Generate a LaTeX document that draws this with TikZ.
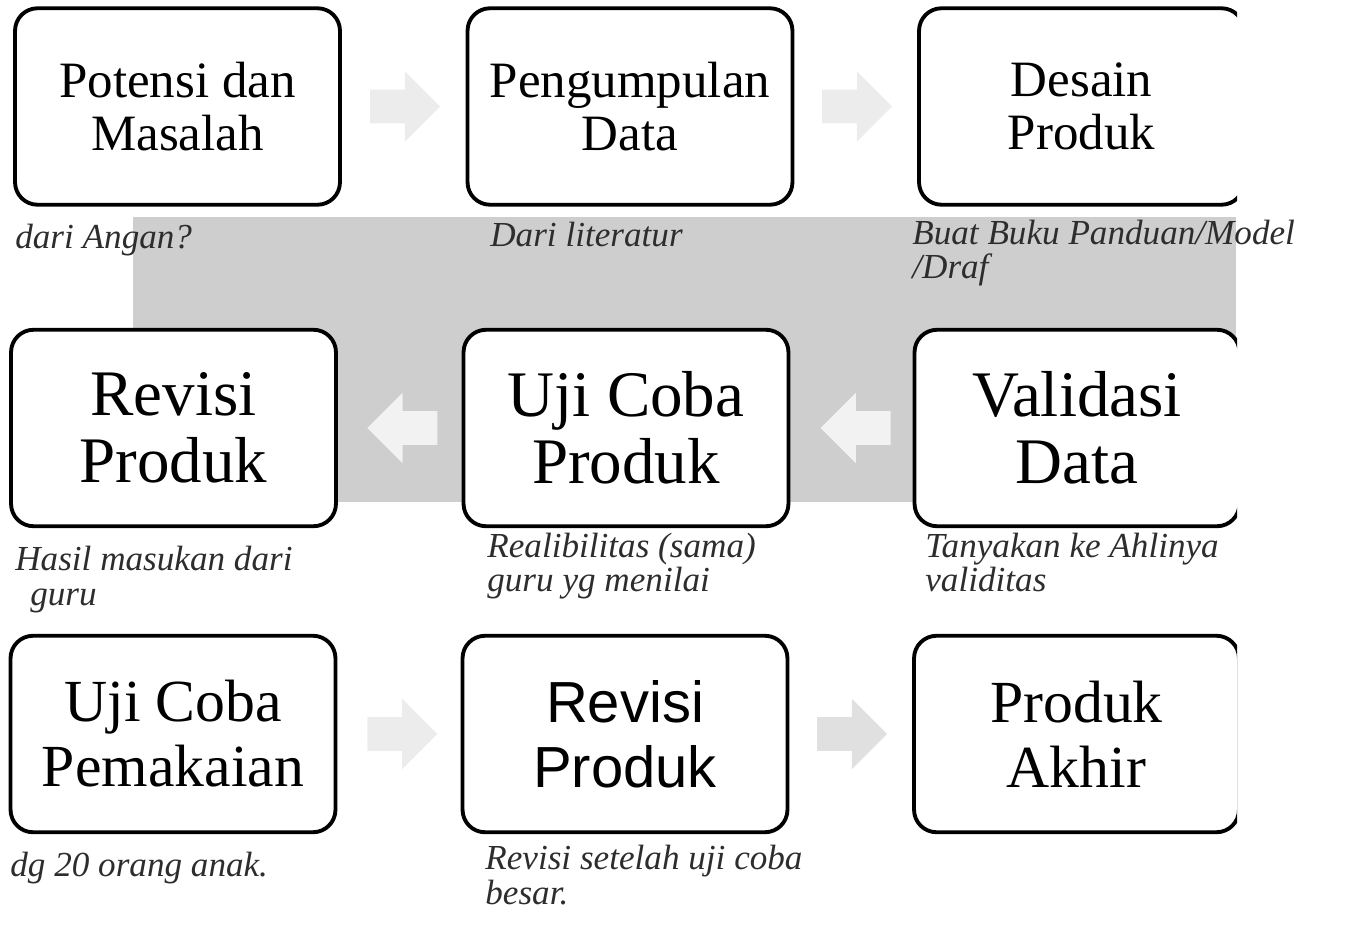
\documentclass[tikz,border=0pt]{standalone}
\usepackage{fontspec}
\setmainfont{Liberation Serif}
\newfontfamily\arialfont{Liberation Sans}
\usetikzlibrary{shapes.arrows,calc}
\definecolor{bandgray}{RGB}{206,206,206}
\definecolor{arrowgray}{RGB}{236,236,236}
\definecolor{arrowdark}{RGB}{224,224,224}
\definecolor{arrowwhite}{RGB}{242,242,242}
\definecolor{inkgray}{RGB}{45,45,45}

\begin{document}
\begin{tikzpicture}[x=0.02cm,y=-0.02cm,
  stepbox/.style={draw,line width=2.2pt,rounded corners=0.45cm,fill=white,minimum width=6.5cm,minimum height=3.93cm,align=center,inner sep=0pt},
  flow/.style={single arrow,fill=#1,draw=none,minimum height=1.4cm,inner sep=0pt,inner ysep=0.33cm,single arrow head extend=0.37cm},
  note/.style={anchor=north west,align=left,inner sep=0pt,font=\fontsize{20}{19.5}\selectfont\itshape,text=inkgray}]
  \useasboundingbox (0,0) rectangle (1368,939);
  % background band behind the middle row
  \fill[bandgray] (133,217) rectangle (1236,502);
  % Row 1
  \node[stepbox,font=\fontsize{29}{30}\selectfont] (potensi) at (177.5,106.5) {Potensi dan\\Masalah};
  \node[stepbox,font=\fontsize{29}{30}\selectfont] (pengumpulan) at (630,106.5) {Pengumpulan\\Data};
  % Row 2
  \node[stepbox,font=\fontsize{37}{38}\selectfont] (revisiA) at (173.5,428) {Revisi\\Produk};
  \node[stepbox,font=\fontsize{37}{38}\selectfont] (ujicoba) at (626,428) {Uji Coba\\Produk};
  % Row 3
  \node[stepbox,font=\fontsize{34}{37}\selectfont] (ujipakai) at (173,734) {Uji Coba\\Pemakaian};
  \node[stepbox,font=\arialfont\fontsize{33}{37}\selectfont] (revisiB) at (625,734) {Revisi\\Produk};
  % right column, cut off at the page edge
  \begin{scope}
    \clip (0,0) rectangle (1237,939);
    \node[stepbox,font=\fontsize{29}{30}\selectfont] (desain) at (1081.5,106.5) {Desain\\Produk};
    \node[stepbox,font=\fontsize{37}{38}\selectfont] (validasi) at (1077,428) {Validasi\\Data};
    \node[stepbox,font=\fontsize{34}{37}\selectfont] (akhir) at (1076.5,734) {Produk\\Akhir};
  \end{scope}
  % block arrows
  \node[flow=arrowgray,xshift=-0.14cm] (arrA) at ($(potensi.east)!0.5!(pengumpulan.west)$) {};
  \node[flow=arrowgray,xshift=-0.14cm] (arrB) at ($(pengumpulan.east)!0.5!(desain.west)$) {};
  \node[flow=arrowwhite,shape border rotate=180,xshift=0.25cm] (arrC) at ($(validasi.west)!0.5!(ujicoba.east)$) {};
  \node[flow=arrowwhite,shape border rotate=180,xshift=0.22cm] (arrD) at ($(ujicoba.west)!0.5!(revisiA.east)$) {};
  \node[flow=arrowgray,xshift=-0.1cm] (arrE) at ($(ujipakai.east)!0.5!(revisiB.west)$) {};
  \node[flow=arrowdark,xshift=-0.14cm] (arrF) at ($(revisiB.east)!0.5!(akhir.west)$) {};
  % handwritten notes
  \node[note] (noteA) at (15,224) {dari Angan?};
  \node[note] (noteB) at (490,222) {Dari literatur};
  \node[note] (noteC) at (912,220) {Buat Buku Panduan/Model\\/Draf};
  \node[note] (noteD) at (15,546) {Hasil masukan dari\\\hspace{0.3cm}guru};
  \node[note] (noteE) at (487,533) {Realibilitas (sama)\\guru yg menilai};
  \node[note] (noteF) at (925,533) {Tanyakan ke Ahlinya\\validitas};
  \node[note] (noteG) at (10,852) {dg 20 orang anak.};
  \node[note] (noteH) at (485,845) {Revisi setelah uji coba\\besar.};
\end{tikzpicture}
\end{document}
